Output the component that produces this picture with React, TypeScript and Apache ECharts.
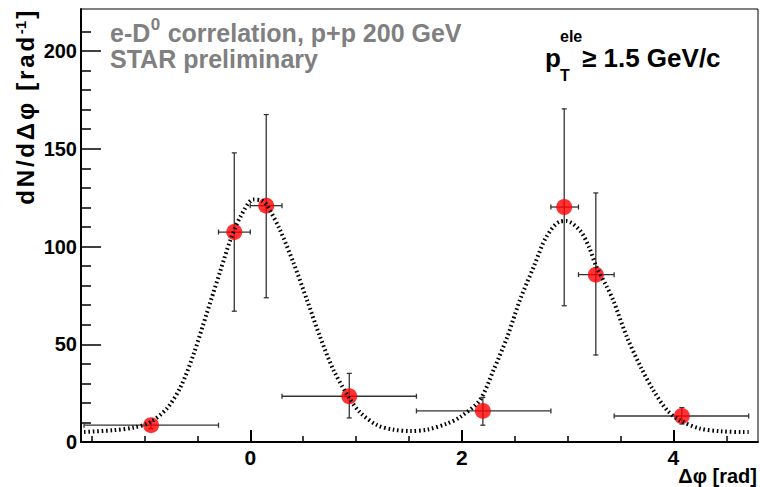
import React, { useEffect, useRef } from 'react';
import * as echarts from 'echarts';

// Data points (Δφ, dN/dΔφ) with asymmetric error bounds
const xVals = [-0.938, -0.151, 0.151, 0.936, 2.199, 2.968, 3.267, 4.08];
const yVals = [8.6, 107.4, 120.9, 23.4, 15.9, 120.2, 85.6, 13.3];
const xLow = [-1.571, -0.3, 0.0, 0.3, 1.571, 2.842, 3.103, 3.44];
const xHigh = [-0.3, 0.0, 0.3, 1.571, 2.842, 3.103, 3.44, 4.712];
const yLow = [6.8, 66.9, 73.8, 12.3, 8.6, 69.7, 44.5, 9.2];
const yHigh = [10.4, 147.9, 167.5, 35.1, 22.8, 170.4, 127.4, 17.6];

// Fit curve
const fitX = [-1.571, -1.3, -1.1, -0.95, -0.79, -0.66, -0.535, -0.41, -0.28, -0.19, -0.095, 0.03, 0.11, 0.16, 0.28, 0.41, 0.536, 0.66, 0.787, 0.93, 1.04, 1.2, 1.355, 1.51, 1.67, 1.86, 1.985, 2.17, 2.3, 2.43, 2.55, 2.68, 2.8, 2.93, 2.99, 3.12, 3.2, 3.27, 3.37, 3.43, 3.56, 3.69, 3.81, 3.94, 4.06, 4.25, 4.44, 4.66, 4.712];
const fitY = [5.1, 6.0, 7.4, 10, 17, 28, 45, 66, 88, 103, 115, 124, 123.5, 121, 108.6, 91.5, 72.7, 53.8, 36.8, 23, 15, 8.6, 6.3, 5.6, 6.3, 9.4, 12.8, 21.4, 36.8, 53.8, 72.7, 89.7, 105, 112.8, 113, 108, 100, 90, 79.5, 72.7, 53.8, 38.5, 26.5, 16.3, 11.1, 6.9, 5.5, 5.1, 5.1];

// Axis ticks
const xMajorTicks = [0, 2, 4];
const xMinorTicks = [-1.5, -1, -0.5, 0.5, 1, 1.5, 2.5, 3, 3.5, 4.5];
const yMajorTicks = [0, 50, 100, 150, 200];
const yMinorTicks = [10, 20, 30, 40, 60, 70, 80, 90, 110, 120, 130, 140, 160, 170, 180, 190, 210];

// Texts
const titleMain1 = 'e-D';
const titleSup = '0';
const titleMain2 = ' correlation, p+p 200 GeV';
const titleLine2 = 'STAR preliminary';
const yTitleMain = 'dN/dΔφ [rad';
const yTitleSup = '-1';
const yTitleEnd = ']';
const xTitle = 'Δφ [rad]';

const FONT = '"Liberation Sans", Arial, Helvetica, sans-serif';

function spaced(s: string, style: string): string {
  return Array.from(s).map((ch) => `{${style}|${ch}}`).join('');
}

function measure(text: string, size: number): number {
  const cv = document.createElement('canvas');
  const ctx = cv.getContext('2d');
  if (!ctx) return text.length * size * 0.55;
  ctx.font = `bold ${size}px ${FONT}`;
  return ctx.measureText(text).width;
}

export default function App() {
  const ref = useRef<HTMLDivElement>(null);

  useEffect(() => {
    const chart = echarts.init(ref.current as HTMLDivElement, null, { renderer: 'svg' });
    const errData = xVals.map((x, i) => [x, yVals[i], xLow[i], xHigh[i], yLow[i], yHigh[i]]);
    const pts = xVals.map((x, i) => [x, yVals[i]]);
    const fit = fitX.map((x, i) => [x, fitY[i]]);

    const labelStyle = { fontFamily: FONT, fontWeight: 'bold', color: '#000' };

    const T_SIZE = 25;
    const S_SIZE = 17;
    const tx0 = 110;
    const w1 = measure(titleMain1, T_SIZE);
    const w0 = measure(titleSup, S_SIZE);

    const gray = '#808080';
    const txt = (text: string, x: number, y: number, size: number, fill: string, align = 'left', lh?: number) => ({
      type: 'text', x, y, z: 10,
      style: { text, fontFamily: FONT, fontWeight: 'bold', fontSize: size, lineHeight: lh || Math.round(size * 0.85), fill, align, verticalAlign: 'middle' },
    });

    const option: any = {
      animation: false,
      backgroundColor: '#ffffff',
      grid: { left: 81, top: 9, right: 2, bottom: 45, show: true, borderColor: '#000', borderWidth: 1 },
      xAxis: [
        {
          type: 'value', min: -1.6, max: 4.8, position: 'bottom',
          axisLine: { show: true, onZero: false, lineStyle: { color: '#000', width: 2 } },
          axisTick: { show: true, inside: true, length: 12, customValues: xMajorTicks, lineStyle: { color: '#000', width: 2 } },
          axisLabel: { show: true, customValues: xMajorTicks, fontSize: 21, margin: 5, ...labelStyle },
          splitLine: { show: false },
        },
        {
          type: 'value', min: -1.6, max: 4.8, position: 'bottom',
          axisLine: { show: false, onZero: false },
          axisTick: { show: true, inside: true, length: 6, customValues: xMinorTicks, lineStyle: { color: '#000', width: 1.5 } },
          axisLabel: { show: false },
          splitLine: { show: false },
        },
      ],
      yAxis: [
        {
          type: 'value', min: 0, max: 221.5, position: 'left',
          axisLine: { show: true, onZero: false, lineStyle: { color: '#000', width: 2 } },
          axisTick: { show: true, inside: true, length: 20, customValues: yMajorTicks, lineStyle: { color: '#000', width: 1.5 } },
          axisLabel: { show: true, customValues: yMajorTicks, fontSize: 20, margin: 4, ...labelStyle },
          splitLine: { show: false },
        },
        {
          type: 'value', min: 0, max: 221.5, position: 'left',
          axisLine: { show: false, onZero: false },
          axisTick: { show: true, inside: true, length: 10, customValues: yMinorTicks, lineStyle: { color: '#000', width: 1.5 } },
          axisLabel: { show: false },
          splitLine: { show: false },
        },
      ],
      series: [
        {
          type: 'custom',
          z: 2,
          xAxisIndex: 0, yAxisIndex: 0,
          data: errData,
          encode: { x: 0, y: 1 },
          renderItem: (params: any, api: any) => {
            const x = api.value(0), y = api.value(1);
            const xl = api.value(2), xh = api.value(3), yl = api.value(4), yh = api.value(5);
            const pL = api.coord([xl, y]);
            const pR = api.coord([xh, y]);
            const pB = api.coord([x, yl]);
            const pT = api.coord([x, yh]);
            const style = { stroke: '#333', lineWidth: 1.3 };
            const c = 2.5;
            return {
              type: 'group',
              children: [
                { type: 'line', shape: { x1: pL[0], y1: pL[1], x2: pR[0], y2: pR[1] }, style },
                { type: 'line', shape: { x1: pL[0], y1: pL[1] - c, x2: pL[0], y2: pL[1] + c }, style },
                { type: 'line', shape: { x1: pR[0], y1: pR[1] - c, x2: pR[0], y2: pR[1] + c }, style },
                { type: 'line', shape: { x1: pB[0], y1: pB[1], x2: pT[0], y2: pT[1] }, style },
                { type: 'line', shape: { x1: pB[0] - c, y1: pB[1], x2: pB[0] + c, y2: pB[1] }, style },
                { type: 'line', shape: { x1: pT[0] - c, y1: pT[1], x2: pT[0] + c, y2: pT[1] }, style },
              ],
            };
          },
        },
        {
          type: 'scatter',
          z: 3,
          xAxisIndex: 0, yAxisIndex: 0,
          data: pts,
          symbol: 'circle',
          symbolSize: 16,
          itemStyle: { color: '#ff0000' },
        },
        {
          type: 'line',
          z: 4,
          xAxisIndex: 0, yAxisIndex: 0,
          data: fit,
          smooth: 0.3,
          showSymbol: false,
          symbol: 'none',
          lineStyle: { color: '#000', width: 4, type: [1.6, 2.8] },
        },
      ],
      graphic: [
        txt(titleMain1, tx0, 33, T_SIZE, gray),
        txt(titleSup, tx0 + w1 + 0.5, 24, S_SIZE, gray, 'left', 13),
        txt(titleMain2, tx0 + w1 + w0 + 1, 33, T_SIZE, gray),
        txt(titleLine2, tx0, 59, T_SIZE, gray),
        txt('p', 545, 58.4, 26, '#000'),
        txt('ele', 560, 36, 16, '#000', 'left', 12),
        txt('T', 560, 75, 16, '#000', 'left', 12),
        txt('≥ 1.5 GeV/c', 582, 58.4, 26, '#000'),
        txt(xTitle, 757, 476, 20, '#000', 'right', 20),
        {
          type: 'text', x: 25, y: 8, z: 10, rotation: Math.PI / 2,
          style: {
            text: spaced(yTitleMain, 'm') + `{s|${yTitleSup}}` + spaced(yTitleEnd, 'm'),
            align: 'right', verticalAlign: 'middle',
            fill: '#000',
            rich: {
              m: { fontFamily: FONT, fontWeight: 'bold', fontSize: 24, lineHeight: 24, fill: '#000', verticalAlign: 'middle', padding: [0, 2.8, 0, 0] },
              s: { fontFamily: FONT, fontWeight: 'bold', fontSize: 15, lineHeight: 10, fill: '#000', verticalAlign: 'top', padding: [0, 2, 0, 0] },
            },
          },
        },
      ],
    };

    chart.setOption(option);
    return () => {
      chart.dispose();
    };
  }, []);

  return <div ref={ref} style={{ position: 'absolute', left: 0, top: 0, width: 760, height: 487 }} />;
}
